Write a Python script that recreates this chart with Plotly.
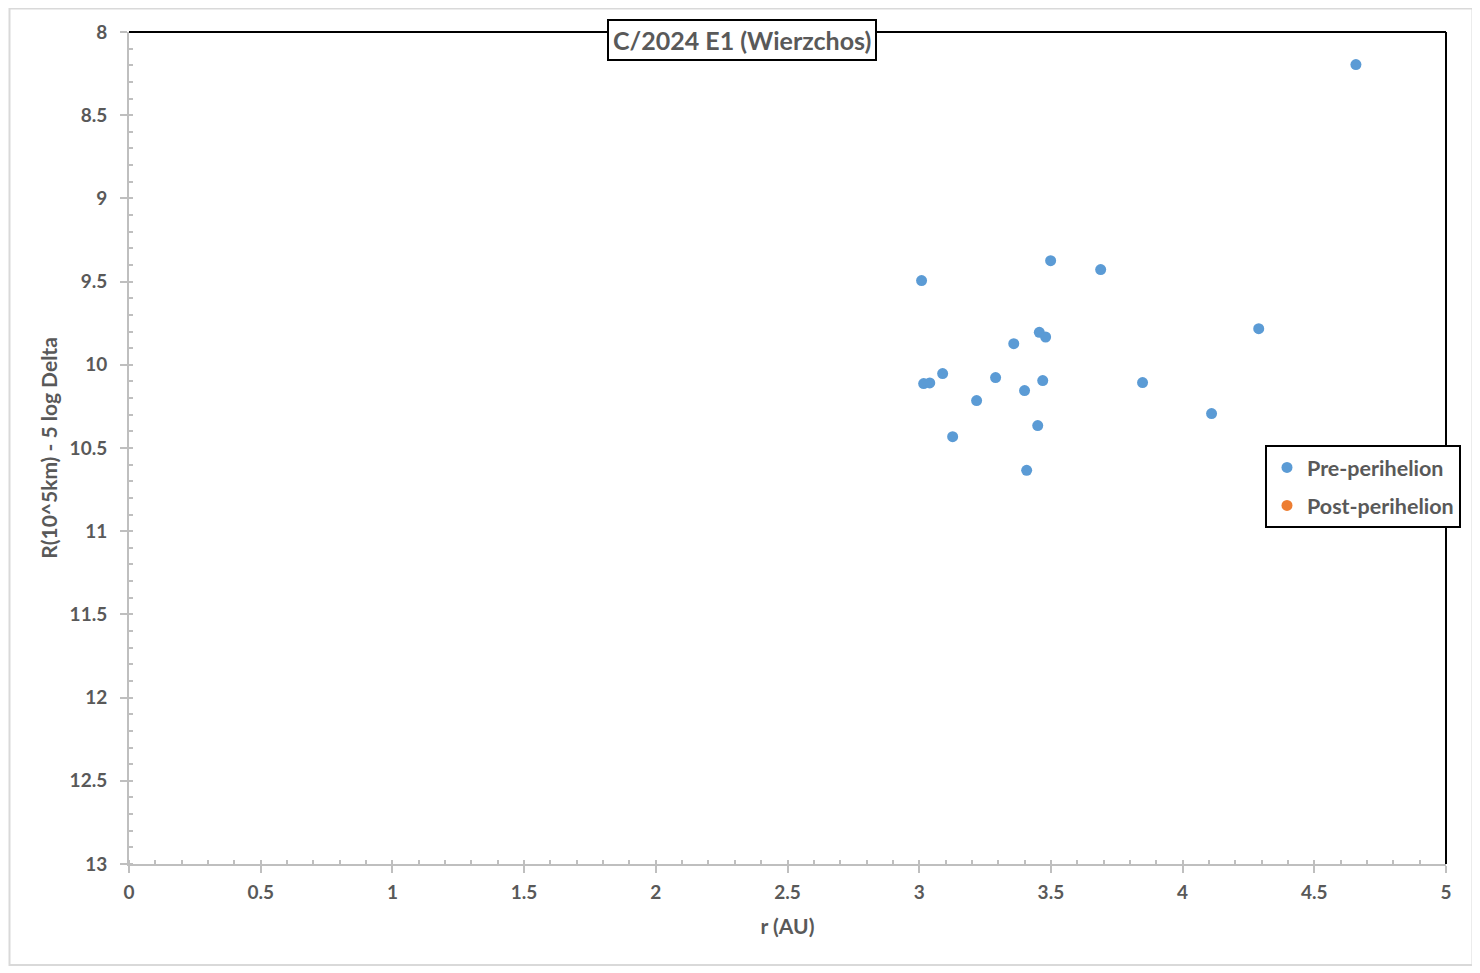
import plotly.graph_objects as go

# Pre-perihelion observations: heliocentric distance r (AU) and reduced magnitude
r_pre = [3.009, 3.499, 3.689, 3.456, 3.480, 3.359, 3.089, 3.017, 3.040, 3.290,
         3.469, 3.400, 3.848, 3.218, 3.450, 3.127, 3.408, 4.110, 4.289, 4.658]
m_pre = [9.494, 9.374, 9.428, 9.805, 9.833, 9.873, 10.053, 10.113, 10.109, 10.077,
         10.095, 10.155, 10.107, 10.215, 10.365, 10.432, 10.634, 10.293, 9.783, 8.196]

# Post-perihelion observations (none yet)
r_post = []
m_post = []

title_text = "C/2024 E1 (Wierzchos)"
x_title = "r (AU)"
y_title = "R(10^5km) - 5 log Delta"

FONT = "Lato"
TXT = "#595959"
AXC = "#bfbfbf"

OFF = 8  # page body offset
W, H = 1472, 965
L, T = 129 - OFF, 32 - OFF
R = W - (1446 - OFF)
B = H - (864 - OFF)
PW, PH = W - L - R, H - T - B


def px(xp):
    return (xp - OFF - L) / PW


def py(yp):
    return 1 - (yp - OFF - T) / PH


fig = go.Figure()
fig.add_trace(go.Scatter(x=r_pre, y=m_pre, mode="markers", name="Pre-perihelion",
                         legendgroup="a",
                         marker=dict(color="#5B9BD5", size=11, line=dict(width=0))))
fig.add_trace(go.Scatter(x=r_post or [None], y=m_post or [None], mode="markers",
                         name="Post-perihelion", legendgroup="b",
                         marker=dict(color="#ED7D31", size=11, line=dict(width=0))))

fig.update_layout(
    width=W, height=H,
    margin=dict(l=L, r=R, t=T, b=B),
    paper_bgcolor="white", plot_bgcolor="white",
    font=dict(family=FONT, color=TXT),
    showlegend=True,
    legend=dict(x=px(1265), y=py(445),
                xanchor="left", yanchor="top",
                bgcolor="white", bordercolor="black", borderwidth=2,
                font=dict(family=FONT, size=21.5, color=TXT, weight="bold"),
                traceorder="grouped", tracegroupgap=7),
    xaxis=dict(range=[0, 5], dtick=0.5, tick0=0, showgrid=False, zeroline=False,
               showline=True, linecolor=AXC, linewidth=2,
               ticks="outside", ticklen=7, tickwidth=2, tickcolor=AXC,
               ticklabelstandoff=3,
               tickfont=dict(family=FONT, size=19, color=TXT, weight="bold"),
               minor=dict(dtick=0.1, ticks="inside", ticklen=4, tickwidth=2,
                          tickcolor=AXC, showgrid=False),
               title=dict(text=x_title, standoff=18,
                          font=dict(family=FONT, size=21, color=TXT, weight="bold"))),
    yaxis=dict(range=[13, 8], dtick=0.5, tick0=8, showgrid=False, zeroline=False,
               showline=True, linecolor=AXC, linewidth=2,
               ticks="outside", ticklen=7, tickwidth=2, tickcolor=AXC,
               ticklabelstandoff=9,
               tickfont=dict(family=FONT, size=19, color=TXT, weight="bold"),
               minor=dict(dtick=0.1, ticks="inside", ticklen=4, tickwidth=2,
                          tickcolor=AXC, showgrid=False),
               title=dict(text=y_title, standoff=6,
                          font=dict(family=FONT, size=21, color=TXT, weight="bold"))),
)

# Top and right black frame lines of the plot area
fig.add_shape(type="line", xref="paper", yref="paper", x0=0, x1=1, y0=1, y1=1,
              line=dict(color="black", width=2), layer="above")
fig.add_shape(type="line", xref="paper", yref="paper", x0=1, x1=1, y0=0, y1=1,
              line=dict(color="black", width=2), layer="above")

# Outer chart border
fig.add_shape(type="rect", xref="paper", yref="paper",
              x0=px(9.5), x1=px(1472.5), y0=py(965), y1=py(8.5),
              line=dict(color="#d9d9d9", width=2), layer="below")

# Boxed chart title
fig.add_annotation(text=title_text, xref="paper", yref="paper",
                   x=px(741.5), y=py(40.5),
                   xanchor="center", yanchor="middle", showarrow=False,
                   font=dict(family=FONT, size=25, color=TXT, weight="bold"),
                   bgcolor="white", bordercolor="black", borderwidth=2, borderpad=4)

fig.write_html("out.html")
